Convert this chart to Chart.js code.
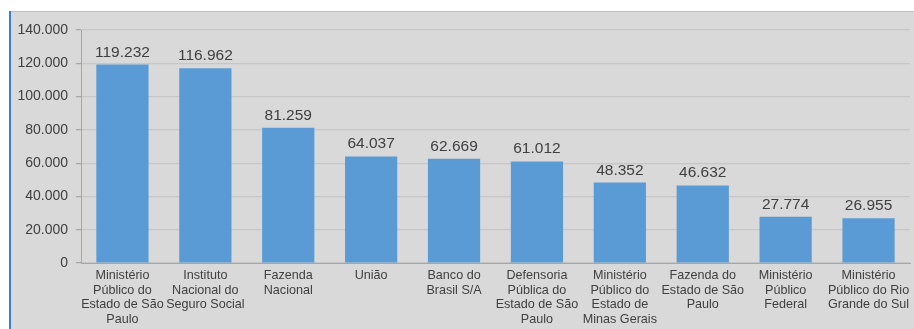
<!DOCTYPE html>
<html lang="pt-BR">
<head>
<meta charset="utf-8">
<title>Maiores litigantes</title>
<script src="https://cdn.jsdelivr.net/npm/chart.js@4.4.1/dist/chart.umd.min.js"></script>
<style>
    html, body { margin: 0; padding: 0; background: #ffffff; }
    #wrap { width: 914px; height: 329px; position: relative; }
</style>
</head>
<body>
<div id="wrap"><canvas id="litigantesChart"></canvas></div>
<script>
// Categories, already broken into lines the way they are shown under each bar
const categories = [
    ['Ministério', 'Público do', 'Estado de São', 'Paulo'],
    ['Instituto', 'Nacional do', 'Seguro Social'],
    ['Fazenda', 'Nacional'],
    ['União'],
    ['Banco do', 'Brasil S/A'],
    ['Defensoria', 'Pública do', 'Estado de São', 'Paulo'],
    ['Ministério', 'Público do', 'Estado de', 'Minas Gerais'],
    ['Fazenda do', 'Estado de São', 'Paulo'],
    ['Ministério', 'Público', 'Federal'],
    ['Ministério', 'Público do Rio', 'Grande do Sul']
];
const processos = [119232, 116962, 81259, 64037, 62669, 61012, 48352, 46632, 27774, 26955];
const yTicks = [0, 20000, 40000, 60000, 80000, 100000, 120000, 140000];

const FONT = '"Liberation Sans", Arial, sans-serif';
const TEXT = '#404040';
const fmt = v => v.toLocaleString('pt-BR');

// Panel background with the thin frame on the top and left
const panelBackground = {
    id: 'panelBackground',
    beforeDraw(chart) {
        const ctx = chart.ctx;
        ctx.save();
        ctx.fillStyle = '#ffffff';
        ctx.fillRect(0, 0, chart.width, chart.height);
        ctx.fillStyle = '#d9d9d9';
        ctx.fillRect(10, 11, chart.width - 10, chart.height - 11);
        ctx.fillStyle = '#b4c0ce';
        ctx.fillRect(10, 11, chart.width - 10, 1);
        ctx.fillStyle = '#3a7fd0';
        ctx.fillRect(9, 11, 2, chart.height - 11);
        ctx.restore();
    }
};

// Value written above each bar
const barValues = {
    id: 'barValues',
    afterDatasetsDraw(chart) {
        const ctx = chart.ctx;
        const meta = chart.getDatasetMeta(0);
        ctx.save();
        ctx.font = '15.5px ' + FONT;
        ctx.fillStyle = TEXT;
        ctx.textAlign = 'center';
        ctx.textBaseline = 'alphabetic';
        meta.data.forEach((bar, i) => {
            ctx.fillText(fmt(processos[i]), bar.x, bar.y - 8);
        });
        ctx.restore();
    }
};

const ctx = document.getElementById('litigantesChart').getContext('2d');
const litigantesChart = new Chart(ctx, {
    type: 'bar',
    data: {
        labels: categories,
        datasets: [{
            label: 'Processos',
            data: processos,
            backgroundColor: '#5b9bd5',
            borderWidth: 0,
            categoryPercentage: 1,
            barPercentage: 0.63
        }]
    },
    options: {
        responsive: true,
        maintainAspectRatio: false,
        animation: false,
        layout: {
            padding: { left: 10, top: 30, right: 4, bottom: 0 }
        },
        plugins: {
            legend: { display: false },
            tooltip: { enabled: false }
        },
        scales: {
            x: {
                grid: { display: false },
                border: { display: true, color: '#a6a6a6', width: 1 },
                ticks: {
                    color: TEXT,
                    font: { family: FONT, size: 12.6, lineHeight: 1.17 },
                    padding: -3,
                    maxRotation: 0,
                    autoSkip: false
                },
                afterFit(scale) { scale.height = 66; }
            },
            y: {
                min: 0,
                max: 140000,
                afterBuildTicks(scale) {
                    scale.ticks = yTicks.map(v => ({ value: v }));
                },
                grid: {
                    color: '#c6c6c6',
                    lineWidth: 1.2,
                    tickLength: 5,
                    tickColor: '#a6a6a6'
                },
                border: { display: true, color: '#a6a6a6', width: 1 },
                ticks: {
                    color: TEXT,
                    font: { family: FONT, size: 14 },
                    padding: 8,
                    callback: v => fmt(v)
                },
                afterFit(scale) { scale.width = 71; }
            }
        }
    },
    plugins: [panelBackground, barValues]
});
</script>
</body>
</html>
